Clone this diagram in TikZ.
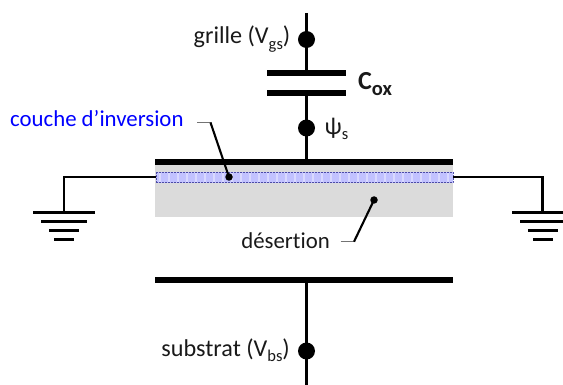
\documentclass[tikz,border=0pt]{standalone}
\usepackage{fontspec}
\setmainfont{Carlito}
\newcommand{\lowsub}[1]{\raisebox{-5.5pt}{\fontsize{16.5}{16.5}\selectfont #1}}
\tikzset{
  x=1pt,y=-1pt,
  lbl/.style={inner sep=0pt,font=\fontsize{22.8}{26}\selectfont,text=black!90},
  lblbig/.style={lbl,font=\fontsize{24.2}{26}\selectfont},
  bar/.style={fill=black,draw=none,inner sep=0pt,outer sep=0pt,minimum height=6pt},
  gbar/.style={fill=black,draw=none,inner sep=0pt,outer sep=0pt,minimum height=3pt},
  bigdot/.style={circle,fill=black,draw=none,inner sep=0pt,minimum size=17pt},
  smalldot/.style={circle,fill=black,draw=none,inner sep=0pt,minimum size=7.5pt},
  wire/.style={line width=2.3pt,draw=black},
  thin wire/.style={line width=2.1pt,draw=black},
  leadgray/.style={line width=1.2pt,draw=black!55},
}
\begin{document}
\begin{tikzpicture}
\useasboundingbox (0,0) rectangle (563,385);
\clip (0,0) rectangle (563,385);
% depletion and inversion regions
\fill[black!14] (155,165) rectangle (453,216.7);
\fill[blue!24] (156,172) rectangle (453,182.7);
\foreach \i in {0,...,32} {
  \fill[blue!15] ({158.5+9*\i},172.5) rectangle ({161+9*\i},182.2);
}
\draw[blue!50!black!70,line width=0.5pt,densely dotted] (156,172) rectangle (453,182.7);
% plates
\node[bar,minimum width=79pt] (capA) at (306.5,73.5) {};
\node[bar,minimum width=79pt] (capB) at (306.5,93.5) {};
\node[bar,minimum width=298pt] (gate) at (304.2,162) {};
\node[bar,minimum width=298pt] (sub) at (304.2,280) {};
% terminal dots
\node[bigdot] (dG) at (306.5,39.5) {};
\node[bigdot] (dS) at (306.5,128) {};
\node[bigdot] (dB) at (306.5,351) {};
\coordinate (topEnd) at (306.5,13);
\coordinate (botEnd) at (306.5,385);
% vertical connectors
\draw[wire] (topEnd) -- (dG.center) -- (capA.center);
\draw[wire] (capB.center) -- (dS.center) -- (306.5,160);
\draw[wire] (306.5,280) -- (dB.center) -- (botEnd);
% inversion / depletion markers
\node[smalldot] (dInv) at (229,177) {};
\node[smalldot] (dDep) at (374,200) {};
% grounds
\coordinate (wL) at (156,176.7);
\coordinate (wR) at (453,177);
\node[gbar,minimum width=62pt] (gL1) at (64,212.5) {};
\node[gbar,minimum width=46pt] (gL2) at (64,221.3) {};
\node[gbar,minimum width=30pt] (gL3) at (64,230.3) {};
\node[gbar,minimum width=20pt] (gL4) at (64,239.3) {};
\node[gbar,minimum width=62pt] (gR1) at (542.5,213) {};
\node[gbar,minimum width=46pt] (gR2) at (542.5,222) {};
\node[gbar,minimum width=30pt] (gR3) at (542.5,231) {};
\node[gbar,minimum width=20pt] (gR4) at (542.5,240) {};
\draw[thin wire] (wL) -| (gL1.center);
\draw[thin wire] (wR) -| (gR1.center);
% leaders
\coordinate (invA) at (197,122.5);
\coordinate (invB) at (210.5,122.5);
\coordinate (depA) at (340.7,241.7);
\coordinate (depB) at (354,241.7);
\draw[leadgray] (invA) -- (invB);
\draw[thin wire] (invB) -- (dInv.center);
\draw[leadgray] (depA) -- (depB);
\draw[thin wire] (depB) -- (dDep.center);
% labels
\node[lblbig,anchor=east] (tG) at (290.5,39) {grille (V\lowsub{gs})};
\node[lbl,anchor=west,font=\fontsize{26}{28}\selectfont\bfseries] (tC) at (358,84) {C\lowsub{\fontsize{20.5}{20.5}\selectfont\bfseries ox}};
\node[lblbig,anchor=west] (tP) at (324.5,129) {ψ\lowsub{s}};
\node[lbl,anchor=west,text=blue] (tI) at (10,119) {couche d’inversion};
\node[lbl,anchor=east] (tD) at (330,241) {désert\kern0pt ion};
\node[lblbig,anchor=east] (tB) at (290,350) {substrat (V\lowsub{bs})};
\end{tikzpicture}
\end{document}
